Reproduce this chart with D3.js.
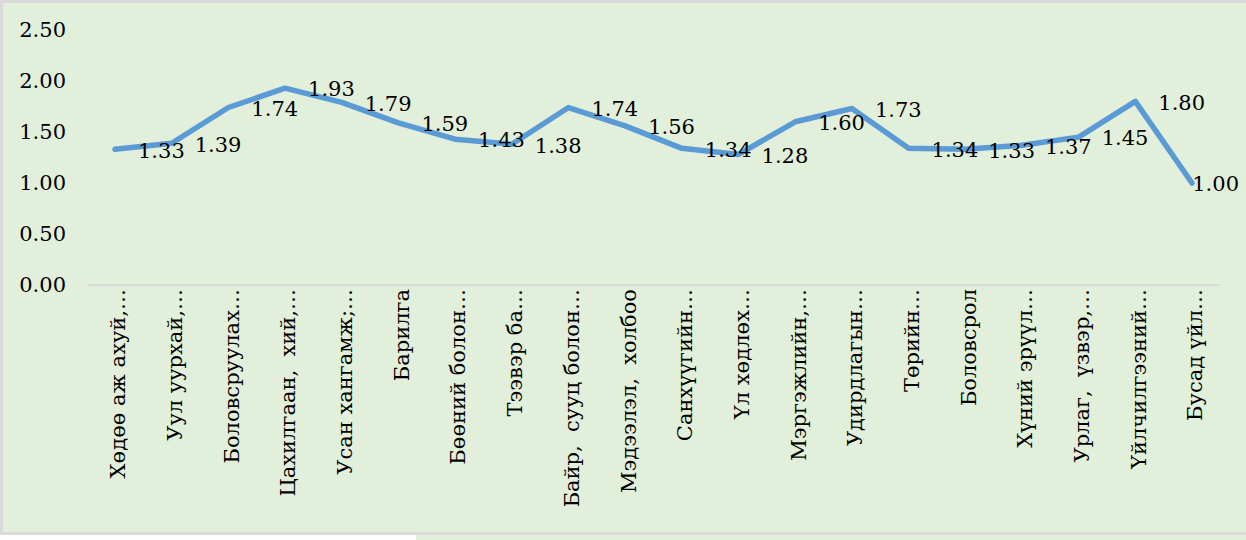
<!DOCTYPE html>
<html>
<head>
<meta charset="utf-8">
<script src="https://cdn.jsdelivr.net/npm/d3@7"></script>
<style>
  body { margin: 0; background: #fff; }
</style>
</head>
<body>
<svg id="chart" width="1246" height="540"></svg>
<script>
// categories as shown (Excel truncated them)
var categories = [
  "Хөдөө аж ахуй,…", "Уул уурхай,…", "Боловсруулах…", "Цахилгаан,  хий,…",
  "Усан хангамж;…", "Барилга", "Бөөний болон…", "Тээвэр ба…",
  "Байр,  сууц болон…", "Мэдээлэл,  холбоо", "Санхүүгийн…", "Үл хөдлөх…",
  "Мэргэжлийн,…", "Удирдлагын…", "Төрийн…", "Боловсрол",
  "Хүний эрүүл…", "Урлаг,  үзвэр,…", "Үйлчилгээний…", "Бусад үйл…"
];
var values = [1.33, 1.39, 1.74, 1.93, 1.79, 1.59, 1.43, 1.38, 1.74, 1.56,
              1.34, 1.28, 1.60, 1.73, 1.34, 1.33, 1.37, 1.45, 1.80, 1.00];
var yTicks = [0, 0.5, 1, 1.5, 2, 2.5];

var serif = "DejaVu Serif";
var fs = 21;
var svg = d3.select("#chart");

// background + frame
svg.append("rect").attr("x", 0).attr("y", 0).attr("width", 1246).attr("height", 540).attr("fill", "#fff");
svg.append("rect").attr("x", 416).attr("y", 533).attr("width", 830).attr("height", 7).attr("fill", "#e2efda");
svg.append("rect").attr("x", 0).attr("y", 0).attr("width", 1246).attr("height", 535).attr("fill", "#d9d9d9");
svg.append("rect").attr("x", 3).attr("y", 3).attr("width", 1243).attr("height", 529).attr("fill", "#e2efda");

var x = d3.scalePoint().domain(categories).range([115, 1192]);
var y = d3.scaleLinear().domain([0, 2.5]).range([285, 30]);

// y axis labels, no line
var yAxis = d3.axisLeft(y).tickValues(yTicks).tickFormat(d3.format(".2f")).tickSize(0).tickPadding(0);
var yg = svg.append("g").attr("transform", "translate(66,0)").call(yAxis);
yg.attr("font-family", serif).attr("font-size", fs);
yg.select(".domain").remove();
yg.selectAll("text").attr("fill", "#000");

// x axis line
svg.append("line")
  .attr("x1", 88).attr("x2", 1220)
  .attr("y1", y(0)).attr("y2", y(0))
  .attr("stroke", "#d9d9d9").attr("stroke-width", 2);

// category labels rotated
svg.selectAll("text.cat")
  .data(categories)
  .join("text")
  .attr("class", "cat")
  .attr("transform", function (d) { return "translate(" + (x(d) + 3) + "," + 289 + ") rotate(-90)"; })
  .attr("text-anchor", "end")
  .attr("dy", "0.35em")
  .attr("font-family", serif)
  .attr("font-size", fs)
  .attr("xml:space", "preserve")
  .text(function (d) { return d; });

// the line
var line = d3.line()
  .x(function (d, i) { return x(categories[i]); })
  .y(function (d) { return y(d); });

svg.append("path")
  .datum(values)
  .attr("d", line)
  .attr("fill", "none")
  .attr("stroke", "#5b9bd5")
  .attr("stroke-width", 5.5)
  .attr("stroke-linejoin", "round")
  .attr("stroke-linecap", "round");

// data labels, to the right of each point
var labels = svg.selectAll("text.val")
  .data(values)
  .join("text")
  .attr("class", "val")
  .attr("y", function (d) { return y(d) + 1; })
  .attr("dy", "0.35em")
  .attr("font-family", serif)
  .attr("font-size", fs)
  .text(function (d) { return d3.format(".2f")(d); });

labels.attr("x", function (d, i) {
  var w = this.getComputedTextLength();
  return Math.min(x(categories[i]) + 23, 1239 - w);
});
</script>
</body>
</html>
